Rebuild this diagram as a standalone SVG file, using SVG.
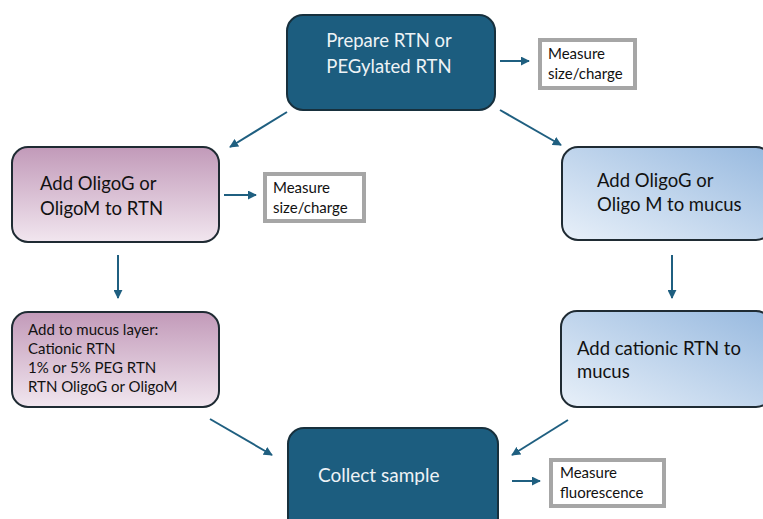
<svg xmlns="http://www.w3.org/2000/svg" width="763" height="519" viewBox="0 0 763 519">
<defs>
<linearGradient id="pink" x1="0" y1="0" x2="0" y2="1">
<stop offset="0" stop-color="#c29ab9"/>
<stop offset="1" stop-color="#f1e6ef"/>
</linearGradient>
<linearGradient id="blue" x1="1" y1="0" x2="0" y2="1">
<stop offset="0" stop-color="#97b9df"/>
<stop offset="1" stop-color="#e8f0f9"/>
</linearGradient>
<marker id="ah" viewBox="0 0 10 10" refX="9" refY="5" markerWidth="4.5" markerHeight="4.5" orient="auto">
<path d="M0,0 L10,5 L0,10 z" fill="#1f5f80"/>
</marker>
</defs>
<style>
.dark{fill:#1c5d7f;stroke:#17303d;stroke-width:2}
.pk{fill:url(#pink);stroke:#1f2b33;stroke-width:2}
.bl{fill:url(#blue);stroke:#1f2b33;stroke-width:2}
.meas{fill:#ffffff;stroke:#a6a6a6;stroke-width:4}
.tw{font-family:Lato,"Liberation Sans",sans-serif;font-size:18.5px;fill:#eef3f6}
.tk{font-family:Lato,"Liberation Sans",sans-serif;font-size:18.5px;fill:#111}
.ts{font-family:Lato,"Liberation Sans",sans-serif;font-size:15px;fill:#111}
.tm{font-family:Lato,"Liberation Sans",sans-serif;font-size:15px;fill:#111}
.con line{stroke:#1f5f80;stroke-width:2;marker-end:url(#ah)}
</style>
<rect width="763" height="519" fill="#ffffff"/>
<g id="prepare">
<rect class="dark" x="287" y="15" width="208" height="95" rx="16"/>
<text class="tw" x="389" y="47" text-anchor="middle">Prepare RTN or</text>
<text class="tw" x="389" y="73" text-anchor="middle">PEGylated RTN</text>
</g>
<g id="measure1">
<rect class="meas" x="540" y="40" width="95" height="48"/>
<text class="tm" x="548" y="59">Measure</text>
<text class="tm" x="548" y="79">size/charge</text>
</g>
<g id="addrtn">
<rect class="pk" x="12" y="147" width="207" height="95" rx="16"/>
<text class="tk" x="40" y="190">Add OligoG or</text>
<text class="tk" x="40" y="215">OligoM to RTN</text>
</g>
<g id="measure2">
<rect class="meas" x="265" y="174" width="99" height="47"/>
<text class="tm" x="273" y="193">Measure</text>
<text class="tm" x="273" y="213">size/charge</text>
</g>
<g id="addmucus">
<rect class="bl" x="562" y="147" width="210" height="93" rx="16"/>
<text class="tk" x="597" y="187">Add OligoG or</text>
<text class="tk" x="597" y="211">Oligo M to mucus</text>
</g>
<g id="mucuslayer">
<rect class="pk" x="12" y="312" width="207" height="95" rx="16"/>
<text class="ts" x="28" y="335">Add to mucus layer:</text>
<text class="ts" x="28" y="354">Cationic RTN</text>
<text class="ts" x="28" y="373">1% or 5% PEG RTN</text>
<text class="ts" x="28" y="392">RTN OligoG or OligoM</text>
</g>
<g id="cationic">
<rect class="bl" x="561" y="311" width="211" height="96" rx="16"/>
<text class="tk" x="577" y="355">Add cationic RTN to</text>
<text class="tk" x="577" y="378">mucus</text>
</g>
<g id="collect">
<rect class="dark" x="288" y="428" width="210" height="110" rx="16"/>
<text class="tw" x="318" y="482" style="font-size:19px">Collect sample</text>
</g>
<g id="measure3">
<rect class="meas" x="551" y="460" width="113" height="46"/>
<text class="tm" x="560" y="478">Measure</text>
<text class="tm" x="560" y="498">fluorescence</text>
</g>
<g id="connectors" class="con">
<line x1="500" y1="61" x2="529" y2="61"/>
<line x1="287" y1="112" x2="230" y2="147"/>
<line x1="500" y1="110" x2="561" y2="145"/>
<line x1="224" y1="195" x2="256" y2="195"/>
<line x1="118" y1="255" x2="118" y2="298"/>
<line x1="672" y1="255" x2="672" y2="298"/>
<line x1="210" y1="419" x2="272" y2="455"/>
<line x1="568" y1="420" x2="512" y2="455"/>
<line x1="512" y1="481" x2="540" y2="481"/>
</g>
</svg>
